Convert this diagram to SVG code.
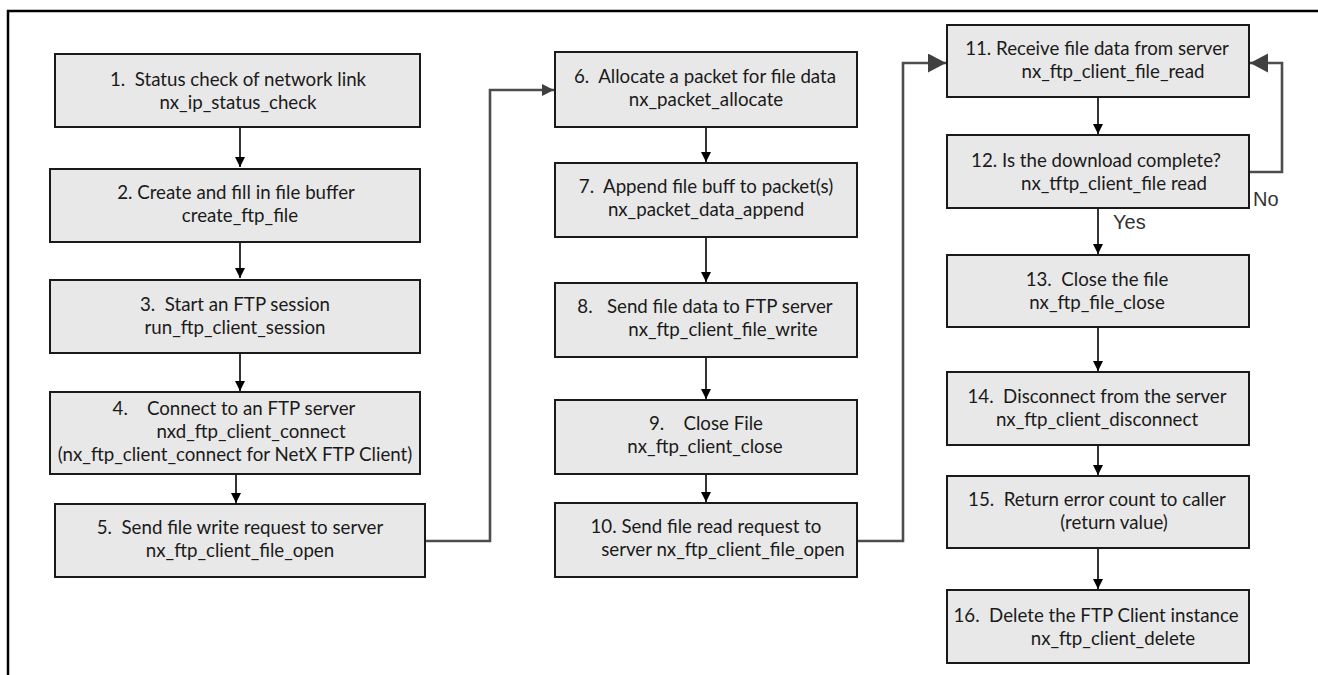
<svg xmlns="http://www.w3.org/2000/svg" width="1318" height="675" viewBox="0 0 1318 675">
<defs>
<style>
.box{fill:#e8e8e8;stroke:#1a1a1a;stroke-width:2}
.t{font-family:Lato,"Open Sans",sans-serif;font-size:18.7px;fill:#1a1a1a;text-anchor:middle;white-space:pre}
.lbl{font-family:"Liberation Sans",Arial,sans-serif;font-size:20px;fill:#333}
.a{stroke:#000;stroke-width:1.6;fill:none;marker-end:url(#ah)}
.g{stroke:#4d4d4d;stroke-width:2.6;fill:none}
</style>
<marker id="ah" markerUnits="userSpaceOnUse" markerWidth="12" markerHeight="12" refX="10" refY="5" orient="auto"><path d="M0,0 L10,5 L0,10 Z" fill="#000"/></marker>
<marker id="gs" markerUnits="userSpaceOnUse" markerWidth="14" markerHeight="14" refX="12" refY="6" orient="auto"><path d="M0,0 L12,6 L0,12 Z" fill="#404040"/></marker>
<marker id="gb" markerUnits="userSpaceOnUse" markerWidth="20" markerHeight="20" refX="18" refY="9.5" orient="auto"><path d="M0,0 L18,9.5 L0,19 Z" fill="#404040"/></marker>
</defs>
<rect width="1318" height="675" fill="#fff"/>
<path d="M8,675 V11 H1318" fill="none" stroke="#000" stroke-width="2.5"/>

<g id="connectors">
<line class="a" x1="240" y1="128" x2="240" y2="167"/>
<line class="a" x1="240" y1="243" x2="240" y2="278"/>
<line class="a" x1="240" y1="354" x2="240" y2="391"/>
<line class="a" x1="236" y1="475" x2="236" y2="503"/>
<line class="a" x1="706" y1="128" x2="706" y2="162"/>
<line class="a" x1="706" y1="238" x2="706" y2="282"/>
<line class="a" x1="706" y1="358" x2="706" y2="399"/>
<line class="a" x1="706" y1="475" x2="706" y2="502"/>
<line class="a" x1="1098" y1="98" x2="1098" y2="134"/>
<line class="a" x1="1098" y1="209" x2="1098" y2="254"/>
<line class="a" x1="1098" y1="328" x2="1098" y2="371"/>
<line class="a" x1="1098" y1="446" x2="1098" y2="475"/>
<line class="a" x1="1098" y1="549" x2="1098" y2="589"/>
<path class="g" d="M425,541 H490 V90 H554" marker-end="url(#gs)"/>
<path class="g" d="M857,541 H903 V63 H946" marker-end="url(#gb)"/>
<path class="g" d="M1249,172 H1282 V63 H1250" marker-end="url(#gb)"/>
<text class="lbl" x="1253" y="206">No</text>
<text class="lbl" x="1113" y="229">Yes</text>
</g>

<g id="n1"><rect class="box" x="55" y="54" width="365" height="73"/>
<text class="t" x="238" y="86">1.  Status check of network link</text>
<text class="t" x="238" y="109">nx_ip_status_check</text></g>
<g id="n2"><rect class="box" x="50" y="169" width="370" height="73"/>
<text class="t" x="236" y="199">2. Create and fill in file buffer</text>
<text class="t" x="240" y="222">create_ftp_file</text></g>
<g id="n3"><rect class="box" x="50" y="280" width="370" height="73"/>
<text class="t" x="235" y="311">3.  Start an FTP session</text>
<text class="t" x="235" y="334">run_ftp_client_session</text></g>
<g id="n4"><rect class="box" x="50" y="392" width="370" height="82"/>
<text class="t" x="234" y="415">4.    Connect to an FTP server</text>
<text class="t" x="251" y="438">nxd_ftp_client_connect</text>
<text class="t" x="235" y="461">(nx_ftp_client_connect for NetX FTP Client)</text></g>
<g id="n5"><rect class="box" x="55" y="504" width="370" height="73"/>
<text class="t" x="240" y="534">5.  Send file write request to server</text>
<text class="t" x="240" y="557">nx_ftp_client_file_open</text></g>

<g id="n6"><rect class="box" x="555" y="52" width="302" height="75"/>
<text class="t" x="705" y="83">6.  Allocate a packet for file data</text>
<text class="t" x="706" y="106">nx_packet_allocate</text></g>
<g id="n7"><rect class="box" x="555" y="163" width="302" height="74"/>
<text class="t" x="706" y="193">7.  Append file buff to packet(s)</text>
<text class="t" x="706" y="216">nx_packet_data_append</text></g>
<g id="n8"><rect class="box" x="555" y="283" width="302" height="74"/>
<text class="t" x="705" y="313">8.   Send file data to FTP server</text>
<text class="t" x="723" y="336">nx_ftp_client_file_write</text></g>
<g id="n9"><rect class="box" x="555" y="400" width="302" height="74"/>
<text class="t" x="706" y="430">9.    Close File</text>
<text class="t" x="705" y="453">nx_ftp_client_close</text></g>
<g id="n10"><rect class="box" x="555" y="503" width="302" height="74"/>
<text class="t" x="706" y="533">10. Send file read request to</text>
<text class="t" x="723" y="556">server nx_ftp_client_file_open</text></g>

<g id="n11"><rect class="box" x="947" y="25" width="302" height="72"/>
<text class="t" x="1097" y="55">11. Receive file data from server</text>
<text class="t" x="1113" y="78">nx_ftp_client_file_read</text></g>
<g id="n12"><rect class="box" x="947" y="135" width="302" height="73"/>
<text class="t" x="1096" y="167">12. Is the download complete?</text>
<text class="t" x="1114" y="190">nx_tftp_client_file read</text></g>
<g id="n13"><rect class="box" x="947" y="255" width="302" height="72"/>
<text class="t" x="1097" y="286">13.  Close the file</text>
<text class="t" x="1097" y="309">nx_ftp_file_close</text></g>
<g id="n14"><rect class="box" x="947" y="372" width="302" height="73"/>
<text class="t" x="1097" y="403">14.  Disconnect from the server</text>
<text class="t" x="1097" y="426">nx_ftp_client_disconnect</text></g>
<g id="n15"><rect class="box" x="947" y="476" width="302" height="72"/>
<text class="t" x="1097" y="506">15.  Return error count to caller</text>
<text class="t" x="1114" y="529">(return value)</text></g>
<g id="n16"><rect class="box" x="947" y="590" width="302" height="73"/>
<text class="t" x="1096" y="622">16.  Delete the FTP Client instance</text>
<text class="t" x="1113" y="645">nx_ftp_client_delete</text></g>
</svg>
